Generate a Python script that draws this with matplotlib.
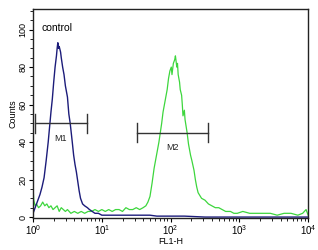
import numpy as np
import matplotlib.pyplot as plt

plt.rcParams['font.family'] = ['Liberation Sans', 'DejaVu Sans']

# === データ（log10(FL1-H), Counts） ===
ctrl_log = [0.00, 0.02, 0.04, 0.07, 0.10, 0.13, 0.16, 0.19, 0.22, 0.24, 0.26, 0.28, 0.30,
            0.32, 0.34, 0.35, 0.36, 0.37, 0.38, 0.40, 0.41, 0.43, 0.45, 0.47, 0.50, 0.52,
            0.54, 0.57, 0.59, 0.61, 0.63, 0.65, 0.67, 0.69, 0.72, 0.75, 0.79, 0.82, 0.86,
            0.90, 0.95, 1.00, 1.10, 1.20, 1.30, 1.40, 1.50, 1.60, 1.70, 1.80, 2.00, 2.20,
            2.50, 3.00, 3.50, 4.00]
ctrl_cnt = [2, 4, 6, 9, 12, 16, 21, 30, 40, 48, 56, 63, 72,
            80, 86, 90, 93, 90, 91, 88, 85, 80, 76, 70, 64, 55,
            50, 40, 33, 28, 24, 19, 14, 10, 7, 6, 5, 4, 3,
            2, 2, 1, 1, 1, 1, 1, 1, 1, 1, 0.5, 0.5, 0.5,
            0, 0, 0, 0]

samp_log = [0.00, 0.01, 0.03, 0.05, 0.08, 0.11, 0.14, 0.17, 0.20, 0.23, 0.26, 0.29, 0.32,
            0.35, 0.38, 0.41, 0.44, 0.47, 0.50, 0.55, 0.60, 0.65, 0.70, 0.75, 0.80, 0.85,
            0.90, 0.95, 1.00, 1.05, 1.10, 1.15, 1.20, 1.25, 1.30, 1.35, 1.40, 1.45, 1.50,
            1.55, 1.60, 1.64, 1.67, 1.70, 1.73, 1.76, 1.80, 1.83, 1.85, 1.87, 1.89, 1.92,
            1.95, 1.97, 1.99, 2.01, 2.02, 2.04, 2.06, 2.07, 2.09, 2.10, 2.11, 2.13, 2.14,
            2.16, 2.17, 2.18, 2.20, 2.21, 2.24, 2.26, 2.29, 2.31, 2.34, 2.36, 2.38, 2.40,
            2.45, 2.50, 2.55, 2.60, 2.65, 2.70, 2.75, 2.80, 2.87, 2.92, 2.97, 3.05, 3.15,
            3.25, 3.35, 3.45, 3.55, 3.65, 3.75, 3.85, 3.92, 3.97, 4.00]
samp_cnt = [16, 9, 6, 7, 5, 6, 8, 6, 7, 5, 6, 4, 5,
            6, 3, 5, 4, 3, 4, 2, 3, 2, 3, 2, 3, 3,
            4, 3, 4, 3, 4, 3, 4, 4, 3, 5, 4, 4, 5,
            4, 5, 6, 8, 11, 18, 26, 34, 40, 45, 50, 56, 62,
            68, 74, 78, 80, 76, 82, 84, 86, 80, 82, 76, 72, 68,
            65, 60, 54, 57, 52, 45, 39, 33, 30, 25, 20, 16, 13,
            10, 9, 7, 6, 5, 5, 4, 3, 3, 2, 2, 3, 2,
            2, 2, 2, 1, 2, 2, 1, 2, 4, 1]

m1_range = [1.05, 6.0]
m2_range = [33, 350]
m1_y, m2_y = 50, 45

fig = plt.figure(figsize=(3.18, 2.5), dpi=100)
ax = fig.add_axes([0.104, 0.128, 0.865, 0.836])

ax.plot(10 ** np.array(samp_log), samp_cnt, color='#3dd63d', lw=0.9)
ax.plot(10 ** np.array(ctrl_log), ctrl_cnt, color='#1c1c7a', lw=1.0)

# マーカー M1 / M2
bar_col = '#333333'
for rng, yy, name in [(m1_range, m1_y, 'M1'), (m2_range, m2_y, 'M2')]:
    ax.plot(rng, [yy, yy], color=bar_col, lw=1.0)
    for xv in rng:
        ax.plot([xv, xv], [yy - 5, yy + 5], color=bar_col, lw=1.0)
    ax.text(np.sqrt(rng[0] * rng[1]), yy - 8, name, fontsize=6.5, ha='center', va='center', color='#222222')

ax.text(1.33, 101, 'control', fontsize=7.5, ha='left', va='center')

ax.set_xscale('log')
ax.set_xlim(1, 1e4)
ax.set_ylim(-0.5, 111)
ax.set_yticks([0, 20, 40, 60, 80, 100])
ax.set_yticks(np.arange(0, 111, 5), minor=True)
ax.tick_params(axis='y', labelrotation=90, labelsize=6.5, length=3, pad=1)
ax.tick_params(axis='x', labelsize=7, length=3, pad=1)
ax.tick_params(which='minor', length=2)
for lbl in ax.get_yticklabels():
    lbl.set_va('center')
ax.set_xlabel('FL1-H', fontsize=6.5, labelpad=0)
ax.set_ylabel('Counts', fontsize=6.5, labelpad=1)
for s in ax.spines.values():
    s.set_color('#222222')
    s.set_linewidth(1.0)

plt.savefig('out.png', dpi=100)
plt.close()
